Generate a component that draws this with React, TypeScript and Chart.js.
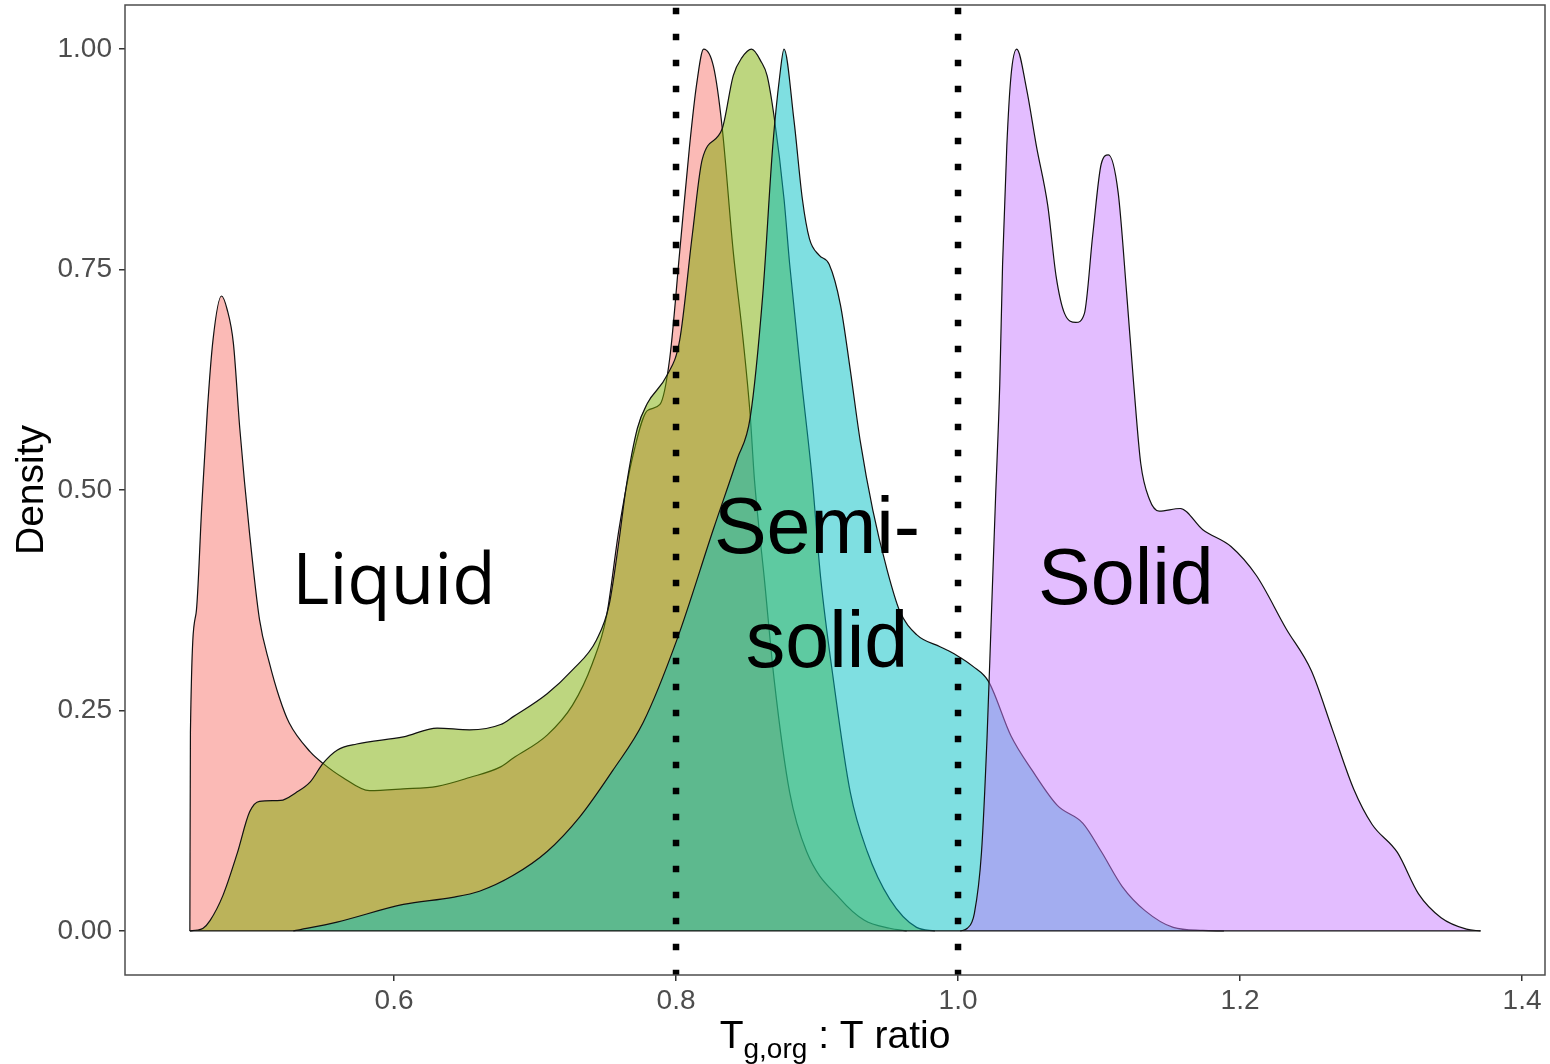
import React, { useEffect, useRef } from 'react';
import { Chart, registerables } from 'chart.js';

Chart.register(...registerables);

// ---- data ----
const redX = [0.4552, 0.4556, 0.4596, 0.4636, 0.4676, 0.4716, 0.4776, 0.4816, 0.4861, 0.4906, 0.4976, 0.5046, 0.5116, 0.5186, 0.5256, 0.5406, 0.5496, 0.5636, 0.5826, 0.6066, 0.6306, 0.6536, 0.6756, 0.6846, 0.7086, 0.7266, 0.7406, 0.7506, 0.7596, 0.7696, 0.7796, 0.7886, 0.7956, 0.8026, 0.8096, 0.8146, 0.8196, 0.8266, 0.8326, 0.8406, 0.8476, 0.8526, 0.8556, 0.8626, 0.8696, 0.8806, 0.8926, 0.9166, 0.9336, 0.9516, 0.9636];
const redY = [0, 0.225, 0.36, 0.48, 0.59, 0.67, 0.72, 0.705, 0.666, 0.57, 0.45, 0.353, 0.304, 0.265, 0.236, 0.203, 0.19, 0.174, 0.159, 0.161, 0.164, 0.174, 0.186, 0.196, 0.222, 0.256, 0.303, 0.356, 0.456, 0.54, 0.59, 0.597, 0.65, 0.77, 0.89, 0.96, 1.0, 0.98, 0.913, 0.77, 0.67, 0.585, 0.512, 0.40, 0.285, 0.157, 0.09, 0.036, 0.012, 0.003, 0];

const oliveX = [0.4552, 0.4606, 0.4646, 0.4696, 0.4786, 0.4886, 0.4976, 0.5046, 0.5196, 0.5306, 0.5406, 0.5496, 0.5596, 0.5736, 0.6066, 0.6306, 0.6536, 0.6756, 0.6846, 0.7086, 0.7266, 0.7436, 0.7526, 0.7596, 0.7646, 0.7726, 0.7796, 0.7936, 0.8026, 0.8116, 0.8186, 0.8326, 0.8406, 0.8466, 0.8536, 0.8606, 0.8646, 0.8696, 0.8766, 0.8806, 0.8886, 0.8966, 0.9026, 0.9116, 0.9236, 0.9356, 0.9516, 0.9706, 0.9836];
const oliveY = [0, 0.001, 0.003, 0.012, 0.04, 0.087, 0.135, 0.147, 0.148, 0.157, 0.169, 0.19, 0.205, 0.212, 0.22, 0.23, 0.228, 0.234, 0.243, 0.269, 0.296, 0.33, 0.37, 0.443, 0.503, 0.57, 0.598, 0.63, 0.67, 0.79, 0.875, 0.909, 0.97, 0.99, 1.0, 0.985, 0.97, 0.923, 0.83, 0.756, 0.63, 0.512, 0.40, 0.285, 0.157, 0.09, 0.036, 0.004, 0];

const cyanX = [0.5286, 0.5596, 0.6066, 0.6416, 0.6606, 0.6846, 0.7086, 0.7316, 0.7556, 0.7766, 0.8006, 0.8266, 0.8436, 0.8526, 0.8616, 0.8686, 0.8736, 0.8766, 0.8836, 0.8896, 0.8946, 0.9016, 0.9086, 0.9166, 0.9236, 0.9306, 0.9396, 0.9496, 0.9586, 0.9706, 0.9876, 0.9986, 1.0106, 1.0216, 1.0376, 1.0526, 1.0706, 1.0886, 1.1016, 1.1166, 1.1326, 1.1526, 1.1736, 1.1886];
const cyanY = [0, 0.01, 0.03, 0.038, 0.045, 0.063, 0.09, 0.129, 0.183, 0.236, 0.33, 0.456, 0.536, 0.582, 0.723, 0.89, 0.97, 1.0, 0.92, 0.83, 0.785, 0.766, 0.756, 0.71, 0.636, 0.556, 0.477, 0.41, 0.363, 0.336, 0.322, 0.313, 0.30, 0.283, 0.221, 0.182, 0.142, 0.122, 0.09, 0.05, 0.023, 0.004, 0.0005, 0];

const purpleX = [1.0016, 1.0066, 1.0116, 1.0166, 1.0206, 1.0236, 1.0266, 1.0296, 1.0316, 1.0346, 1.0376, 1.0416, 1.0486, 1.0556, 1.0636, 1.0696, 1.0756, 1.0836, 1.0896, 1.0956, 1.1016, 1.1066, 1.1136, 1.1196, 1.1246, 1.1296, 1.1356, 1.1426, 1.1576, 1.1736, 1.1936, 1.2116, 1.2326, 1.2506, 1.2656, 1.2806, 1.2936, 1.3116, 1.3266, 1.3426, 1.3606, 1.3706];
const purpleY = [0, 0.003, 0.02, 0.088, 0.22, 0.355, 0.49, 0.62, 0.756, 0.89, 0.97, 1.0, 0.955, 0.89, 0.823, 0.742, 0.70, 0.69, 0.70, 0.79, 0.87, 0.88, 0.837, 0.723, 0.62, 0.53, 0.49, 0.476, 0.479, 0.455, 0.436, 0.403, 0.343, 0.295, 0.228, 0.161, 0.121, 0.089, 0.042, 0.015, 0.002, 0];

const xTicks = [0.6, 0.8, 1.0, 1.2, 1.4];
const yTicks = [0, 0.25, 0.5, 0.75, 1.0];
const thresholds = [0.8, 1.0];

const regionText = ['Liquid', 'Semi-', 'solid', 'Solid'];
const regionX = [0.6000, 0.9000, 0.9071, 1.1191];
const regionY = [0.3712, 0.4291, 0.2997, 0.3712];

// ---- styling ----
const SERIES = [
  { x: redX, y: redY, fill: 'rgba(248,118,109,0.5)' },
  { x: oliveX, y: oliveY, fill: 'rgba(124,174,0,0.5)' },
  { x: cyanX, y: cyanY, fill: 'rgba(0,191,196,0.5)' },
  { x: purpleX, y: purpleY, fill: 'rgba(199,124,255,0.5)' },
];
const REGION_FONT = [
  '71px "Open Sans"',
  '79px "Liberation Sans"',
  '79px "Liberation Sans"',
  '79px "Liberation Sans"',
];

const overlayPlugin = {
  id: 'overlay',
  afterDatasetsDraw(chart: any) {
    const { ctx, chartArea, scales } = chart;
    const xs = scales.x;
    const ys = scales.y;
    ctx.save();
    // dotted threshold lines
    ctx.strokeStyle = '#000';
    ctx.lineWidth = 6.5;
    ctx.lineCap = 'butt';
    ctx.setLineDash([6.5, 19.5]);
    ctx.lineDashOffset = 23.25;
    thresholds.forEach((v) => {
      const px = xs.getPixelForValue(v);
      ctx.beginPath();
      ctx.moveTo(px, chartArea.top);
      ctx.lineTo(px, chartArea.bottom);
      ctx.stroke();
    });
    ctx.setLineDash([]);
    // region labels
    ctx.fillStyle = '#000';
    ctx.textAlign = 'center';
    ctx.textBaseline = 'alphabetic';
    regionText.forEach((t, i) => {
      ctx.font = REGION_FONT[i];
      ctx.fillText(t, xs.getPixelForValue(regionX[i]), ys.getPixelForValue(regionY[i]));
    });
    ctx.restore();
  },
  afterDraw(chart: any) {
    const { ctx, chartArea } = chart;
    ctx.save();
    // panel border
    ctx.strokeStyle = '#4d4d4d';
    ctx.lineWidth = 1.5;
    ctx.strokeRect(chartArea.left, chartArea.top, chartArea.right - chartArea.left, chartArea.bottom - chartArea.top);
    // x title with subscript
    ctx.fillStyle = '#000';
    ctx.textBaseline = 'alphabetic';
    ctx.textAlign = 'left';
    const mainFont = '39px "Liberation Sans"';
    const subFont = '28px "Liberation Sans"';
    ctx.font = mainFont;
    const wT = ctx.measureText('T').width;
    const wRest = ctx.measureText(' : T ratio').width;
    ctx.font = subFont;
    const wSub = ctx.measureText('g,org').width;
    const total = wT + wSub + wRest;
    const cx = 835;
    let sx = cx - total / 2;
    const base = 1048;
    ctx.font = mainFont;
    ctx.fillText('T', sx, base);
    sx += wT;
    ctx.font = subFont;
    ctx.fillText('g,org', sx, base + 10);
    sx += wSub;
    ctx.font = mainFont;
    ctx.fillText(' : T ratio', sx, base);
    // y title
    ctx.translate(43, 490);
    ctx.rotate(-Math.PI / 2);
    ctx.textAlign = 'center';
    ctx.font = '39px "Liberation Sans"';
    ctx.fillText('Density', 0, 0);
    ctx.restore();
  },
};

export default function App() {
  const canvasRef = useRef<HTMLCanvasElement | null>(null);

  useEffect(() => {
    const canvas = canvasRef.current;
    if (!canvas) return;
    const allX = SERIES.flatMap((s) => s.x);
    const minX = Math.min(...allX);
    const maxX = Math.max(...allX);

    const datasets: any[] = SERIES.map((s, i) => ({
      data: s.x.map((xv, j) => ({ x: xv, y: s.y[j] })),
      backgroundColor: s.fill,
      borderColor: '#111',
      borderWidth: 1.2,
      fill: 'origin',
      pointRadius: 0,
      cubicInterpolationMode: 'monotone',
      order: 10 - i,
    }));
    datasets.push({
      data: [
        { x: minX, y: 0 },
        { x: maxX, y: 0 },
      ],
      borderColor: '#111',
      borderWidth: 1.2,
      fill: false,
      pointRadius: 0,
      order: 0,
    });

    const tickFont = { family: 'Liberation Sans', size: 28 };
    const chart = new Chart(canvas, {
      type: 'line',
      data: { datasets },
      plugins: [overlayPlugin],
      options: {
        animation: false,
        responsive: false,
        devicePixelRatio: 1,
        layout: { padding: { left: 0, top: 5, right: 5, bottom: 0 } },
        plugins: { legend: { display: false }, tooltip: { enabled: false } },
        scales: {
          x: {
            type: 'linear',
            min: 0.4092,
            max: 1.4163,
            afterBuildTicks: (scale: any) => {
              scale.ticks = xTicks.map((v) => ({ value: v }));
            },
            afterFit: (scale: any) => {
              scale.height = 89;
              scale.paddingLeft = 0;
              scale.paddingRight = 0;
            },
            ticks: {
              autoSkip: false,
              maxRotation: 0,
              color: '#4D4D4D',
              font: tickFont,
              padding: 3,
              callback: (v: any) => Number(v).toFixed(1),
            },
            grid: { drawOnChartArea: false, drawTicks: true, tickLength: 6, color: '#333', lineWidth: 1.5 },
            border: { display: false },
          },
          y: {
            type: 'linear',
            min: -0.05,
            max: 1.05,
            afterBuildTicks: (scale: any) => {
              scale.ticks = yTicks.map((v) => ({ value: v }));
            },
            afterFit: (scale: any) => {
              scale.width = 125;
              scale.paddingTop = 0;
              scale.paddingBottom = 0;
            },
            ticks: {
              autoSkip: false,
              color: '#4D4D4D',
              font: tickFont,
              padding: 7,
              callback: (v: any) => Number(v).toFixed(2),
            },
            grid: { drawOnChartArea: false, drawTicks: true, tickLength: 6, color: '#333', lineWidth: 1.5 },
            border: { display: false },
          },
        },
      } as any,
    });
    return () => chart.destroy();
  }, []);

  return (
    <div style={{ position: 'absolute', left: 0, top: 0, width: 1550, height: 1064, background: '#fff' }}>
      <canvas ref={canvasRef} width={1550} height={1064} style={{ display: 'block' }} />
    </div>
  );
}
